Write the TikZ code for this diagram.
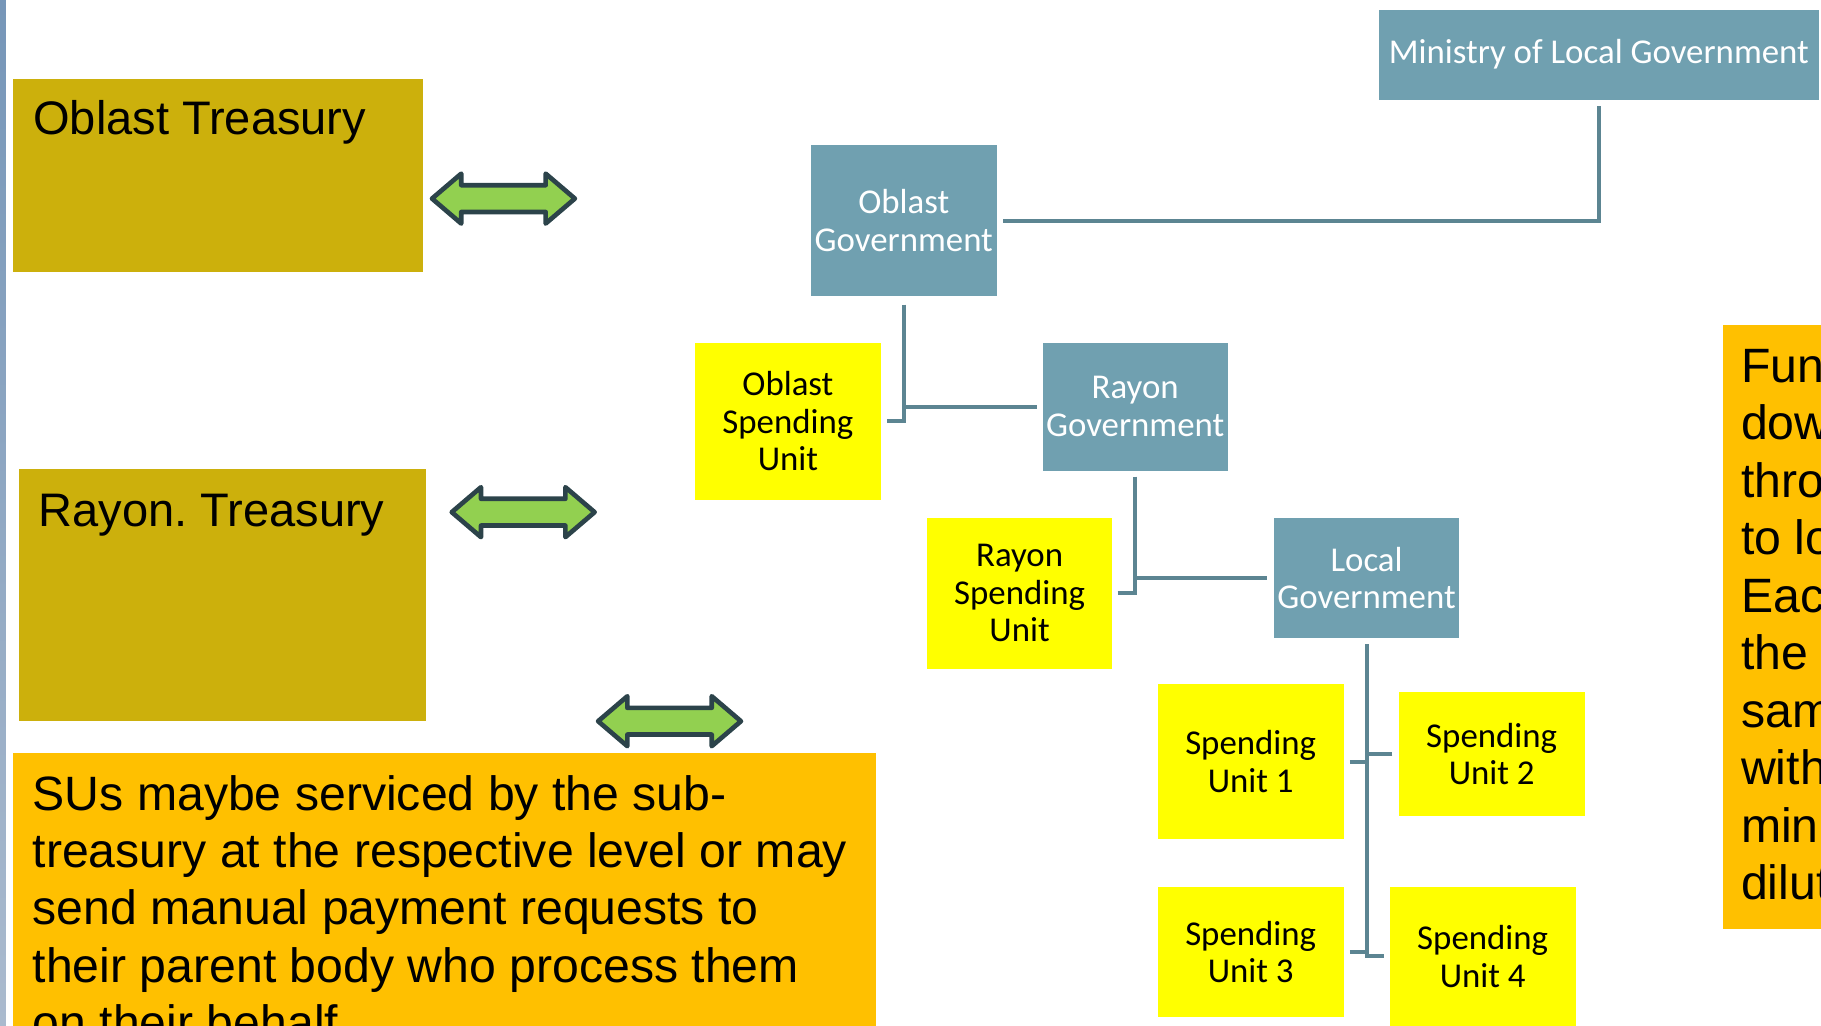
\documentclass[tikz,border=0pt]{standalone}
\usepackage{fontspec}
\setmainfont{Liberation Sans}
\newfontfamily\orgfont{Carlito}
\usepackage{tikz}
\usetikzlibrary{shapes.arrows}
\frenchspacing

\definecolor{govblue}{RGB}{112,160,176}
\definecolor{linkblue}{RGB}{92,133,146}
\definecolor{unityellow}{RGB}{255,255,0}
\definecolor{treasurygold}{RGB}{204,176,12}
\definecolor{noteorange}{RGB}{255,192,0}
\definecolor{arrowgreen}{RGB}{146,208,80}
\definecolor{arrowedge}{RGB}{44,67,74}
\definecolor{stripblue}{RGB}{118,150,184}
\definecolor{stripgray}{RGB}{170,186,206}

\newcommand{\boxfont}{\fontsize{40.5}{48}\selectfont}
\newcommand{\notefont}{\fontsize{41.5}{49.5}\selectfont}
\newcommand{\chartfont}{\orgfont\fontsize{30}{32.5}\selectfont}

\tikzstyle{govbox}=[rectangle, fill=govblue, text=white, font=\chartfont, align=center, inner sep=0pt, anchor=north west]
\tikzstyle{unitbox}=[rectangle, fill=unityellow, text=black, font=\chartfont, align=center, inner sep=0pt, anchor=north west]
\tikzstyle{treasury}=[rectangle, fill=treasurygold, inner sep=0pt, anchor=north west]
\tikzstyle{notebox}=[rectangle, fill=noteorange, inner sep=0pt, anchor=north west]
\tikzstyle{link}=[draw=linkblue, line width=3.5pt]
\tikzstyle{flowarrow}=[double arrow, draw=arrowedge, fill=arrowgreen, line width=4pt, line join=round, double arrow head extend=10pt, double arrow tip angle=81, inner xsep=0pt, inner ysep=9.5pt, minimum height=123pt]

\begin{document}
\begin{tikzpicture}[x=1pt, y=-1pt]
    \useasboundingbox (0,0) rectangle (1568,883);
    \clip (0,0) rectangle (1568,883);
    \fill[white] (0,0) rectangle (1568,883);
    \shade[top color=stripblue, bottom color=stripgray] (0,0) rectangle (5,883);

    % treasuries and notes
    \node[treasury, minimum width=353, minimum height=166.5] (otr) at (11,67.5) {};
    \node[anchor=base west, font=\boxfont, inner sep=0pt] (otrtext) at (28.5,116) {Oblast Treasury};
    \node[treasury, minimum width=351, minimum height=216.5] (rtr) at (16,404) {};
    \node[anchor=base west, font=\boxfont, inner sep=0pt] (rtrtext) at (33,453) {Rayon. Treasury};

    \node[notebox, minimum width=743, minimum height=260] (sunote) at (11,648) {};
    \node[anchor=north west, font=\notefont, align=left, inner sep=0pt] (sutext) at (28,667.2)
        {SUs maybe serviced by the sub-\\treasury at the respective level or may\\send manual payment requests to\\their parent body who process them\\on their behalf};
    \node[notebox, minimum width=100, minimum height=520] (flownote) at (1483,280) {};
    \node[anchor=north west, font=\notefont, align=left, inner sep=0pt] (flowtext) at (1499,300.3)
        {Fun\\dow\\thro\\to lo\\Eac\\the\\sam\\with\\mini\\dilut};

    \node[flowarrow] (oarrow) at (433.5,171) {};
    \node[flowarrow] (rarrow) at (450.5,441) {};
    \node[flowarrow] (sarrow) at (576.5,621) {};

    % hierarchy
    \node[govbox, minimum width=379, minimum height=77.5] (mlg) at (1187,8) {Ministry of Local Government};
    \node[govbox, minimum width=160, minimum height=130] (ogov) at (698,125) {Oblast\\Government};
    \node[unitbox, minimum width=160.5, minimum height=135] (osu) at (598,295) {Oblast\\Spending\\Unit};
    \node[govbox, minimum width=159.5, minimum height=110] (rgov) at (897.5,295) {Rayon\\Government};
    \node[unitbox, minimum width=159.5, minimum height=130] (rsu) at (798,445.5) {Rayon\\Spending\\Unit};
    \node[govbox, minimum width=160, minimum height=104] (lgov) at (1096.5,445.5) {Local\\Government};
    \node[unitbox, minimum width=160.5, minimum height=133.5] (su1) at (996.5,589) {Spending\\Unit 1};
    \node[unitbox, minimum width=160.5, minimum height=106] (su2) at (1204,596) {Spending\\Unit 2};
    \node[unitbox, minimum width=160.5, minimum height=112] (su3) at (996.5,763.5) {Spending\\Unit 3};
    \node[unitbox, minimum width=160, minimum height=119.5] (su4) at (1196.5,763.5) {Spending\\Unit 4};

    \draw[link] ([yshift=-5.5pt]mlg.south) |- ([xshift=5pt]ogov.east);

    \draw[link] ([yshift=-7pt]ogov.south) |- ([xshift=-5pt]rgov.west);
    \draw[link] ([xshift=5pt]osu.east) -| (ogov.south |- rgov.west);

    \draw[link] ([yshift=-5pt]rgov.south) |- ([xshift=-5.5pt]lgov.west);
    \draw[link] ([xshift=4.5pt]rsu.east) -| (rgov.south |- lgov.west);

    \draw[link] ([yshift=-5pt]lgov.south) |- ([xshift=-5pt]su4.west);
    \draw[link] ([xshift=5pt]su1.east) -- (su1.east -| lgov.south);
    \draw[link] ([xshift=-5pt]su2.west) -- (su2.west -| lgov.south);
    \draw[link] ([xshift=5pt]su3.east) -- (su3.east -| lgov.south);
\end{tikzpicture}
\end{document}
